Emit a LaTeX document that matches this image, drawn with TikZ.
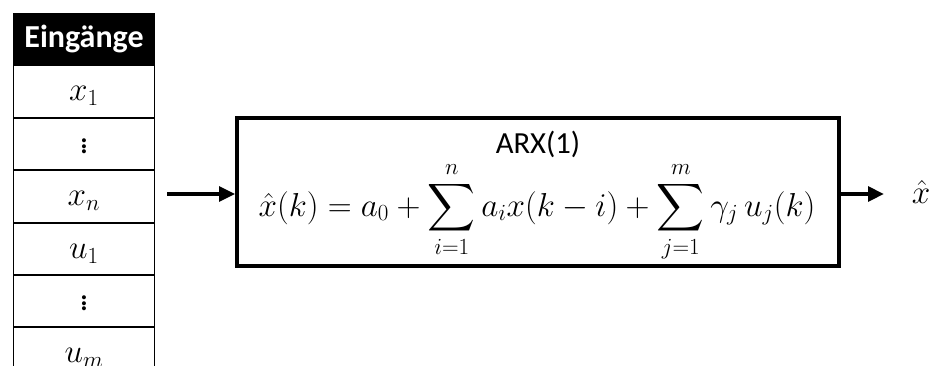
\documentclass[tikz,border=0pt]{standalone}
\usepackage{amsmath}
\usepackage{fontspec}
\setmainfont{Carlito}
\usetikzlibrary{positioning, arrows.meta}

\tikzset{
  feld/.style={draw, line width=0.8pt, minimum width=105.75pt, minimum height=38.5pt, inner sep=0pt},
  zelle/.style={feld, text height=14pt, text depth=0pt, font=\fontsize{25}{28}\selectfont},
  kopf/.style={feld, fill=black, text=white, font=\fontsize{24}{26}\selectfont\bfseries},
  block/.style={draw, line width=2.8pt, minimum width=451.5pt, minimum height=111pt, inner sep=0pt},
  pfeil/.style={line width=2.8pt, -{Triangle[length=12pt, width=11pt]}}
}

\begin{document}
\begin{tikzpicture}[x=0.75pt, y=-0.75pt]
  \useasboundingbox (0,0) rectangle (936,365);
  \clip (0,0) rectangle (936,365);

  % Tabelle der Eingaenge
  \node[kopf, anchor=north west] (kopf) at (13,13) {Eingänge};
  \node[zelle, below=0pt of kopf] (x1) {$x_1$};
  \node[zelle, below=0pt of x1] (xdots) {$\vdots$};
  \node[zelle, below=0pt of xdots] (xn) {$x_n$};
  \node[zelle, below=0pt of xn] (u1) {$u_1$};
  \node[zelle, below=0pt of u1] (udots) {$\vdots$};
  \node[zelle, below=0pt of udots] (um) {$u_m$};

  % ARX-Modell
  \node[block] (arx) at (538,192) {};
  \node[font=\fontsize{23}{26}\selectfont] (titel) at (538,144) {ARX(1)};
  \node[font=\fontsize{25}{30}\selectfont] (formel) at (537,212)
    {$\displaystyle \hat{x}(k) = a_0 + \sum_{i=1}^{n} a_i x(k-i) + \sum_{j=1}^{m} \gamma_j\, u_j(k)$};

  \coordinate (ein) at (167,194);
  \coordinate (aus) at (884,194);
  \node[font=\fontsize{25}{28}\selectfont] (xhat) at (921,192) {$\hat{x}$};

  \draw[pfeil] (ein) -- (ein -| arx.west);
  \draw[pfeil] (arx.east |- aus) -- (aus);
\end{tikzpicture}
\end{document}
